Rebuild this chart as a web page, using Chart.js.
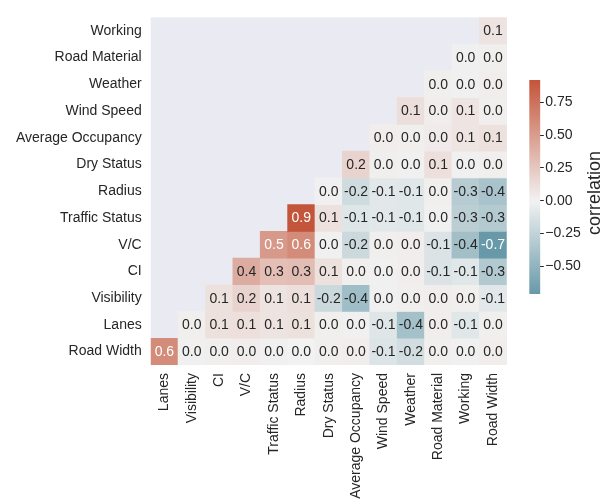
<!DOCTYPE html>
<html>
<head>
<meta charset="utf-8">
<title>Correlation heatmap</title>
<script src="https://cdn.jsdelivr.net/npm/chart.js@4.4.1/dist/chart.umd.min.js"></script>
<style>
  html, body { margin: 0; padding: 0; background: #ffffff; }
  #wrap { position: relative; width: 601px; height: 504px; }
  #wrap canvas { position: absolute; left: 0; top: 0; }
</style>
</head>
<body>
<div id="wrap">
  <canvas id="heat" width="601" height="504"></canvas>
  <canvas id="cbar" width="601" height="504"></canvas>
</div>
<script>
// Row order, top to bottom
const rowLabels = ['Working', 'Road Material', 'Weather', 'Wind Speed', 'Average Occupancy',
  'Dry Status', 'Radius', 'Traffic Status', 'V/C', 'CI', 'Visibility', 'Lanes', 'Road Width'];
// Column order, left to right
const colLabels = ['Lanes', 'Visibility', 'CI', 'V/C', 'Traffic Status', 'Radius', 'Dry Status',
  'Average Occupancy', 'Wind Speed', 'Weather', 'Road Material', 'Working', 'Road Width'];

// Lower-triangle correlations of each row; each row ends at the last column
const corrWorking          = [0.09];
const corrRoadMaterial     = [0.01, 0.02];
const corrWeather          = [0.02, 0.01, 0.03];
const corrWindSpeed        = [0.12, 0.03, 0.08, 0.02];
const corrAverageOccupancy = [0.03, 0.02, 0.04, 0.08, 0.10];
const corrDryStatus        = [0.18, 0.02, 0.01, 0.11, 0.01, 0.02];
const corrRadius           = [0.01, -0.18, -0.08, -0.09, 0.02, -0.31, -0.38];
const corrTrafficStatus    = [0.92, 0.10, -0.10, -0.08, -0.09, 0.01, -0.29, -0.32];
const corrVC               = [0.52, 0.60, 0.01, -0.20, 0.02, 0.03, -0.12, -0.41, -0.71];
const corrCI               = [0.41, 0.30, 0.31, 0.10, 0.02, 0.01, 0.03, -0.12, -0.09, -0.33];
const corrVisibility       = [0.10, 0.18, 0.09, 0.11, -0.20, -0.42, 0.01, 0.02, 0.03, 0.02, -0.08];
const corrLanes            = [0.02, 0.10, 0.11, 0.09, 0.10, 0.02, 0.01, -0.10, -0.40, 0.03, -0.09, 0.02];
const corrRoadWidth        = [0.60, 0.01, 0.02, 0.03, 0.01, 0.00, 0.02, 0.03, -0.11, -0.17, 0.02, 0.01, 0.03];

const colorbarTicks = [-0.5, -0.25, 0, 0.25, 0.5, 0.75];

const rowValues = [corrWorking, corrRoadMaterial, corrWeather, corrWindSpeed, corrAverageOccupancy,
  corrDryStatus, corrRadius, corrTrafficStatus, corrVC, corrCI, corrVisibility, corrLanes, corrRoadWidth];

// ---- colour map: diverging blue -> light grey -> red, centred on 0 ----
const allValues = rowValues.flat();
const vMin = Math.min(...allValues);
const vMax = Math.max(...allValues);
const vRange = Math.max(Math.abs(vMin), Math.abs(vMax));
const NEG = [63, 127, 147];
const MID = [242, 242, 242];
const POS = [195, 85, 58];

function corrRGB(v) {
  const t = Math.max(-1, Math.min(1, v / vRange));
  const end = t < 0 ? NEG : POS;
  const a = Math.abs(t);
  return MID.map((m, k) => Math.round(m + (end[k] - m) * a));
}
function corrColor(v) {
  const c = corrRGB(v);
  return `rgb(${c[0]},${c[1]},${c[2]})`;
}
function textColorFor(v) {
  const lin = corrRGB(v).map(c => {
    c /= 255;
    return c <= 0.03928 ? c / 12.92 : Math.pow((c + 0.055) / 1.055, 2.4);
  });
  const lum = 0.2126 * lin[0] + 0.7152 * lin[1] + 0.0722 * lin[2];
  return lum > 0.408 ? '#262626' : '#ffffff';
}

const FONT = "'Liberation Sans', Arial, Helvetica, sans-serif";
Chart.defaults.font.family = FONT;
Chart.defaults.font.size = 14;
Chart.defaults.color = '#262626';

// ---- one floating-bar dataset per row: each cell spans [row-0.5, row+0.5] ----
const nCols = colLabels.length;
const datasets = rowValues.map((vals, r) => {
  const start = nCols - vals.length;
  const cells = [];
  const cellValues = [];
  for (let c = 0; c < nCols; c++) {
    if (c >= start) {
      cells.push([r - 0.5, r + 0.5]);
      cellValues.push(vals[c - start]);
    } else {
      cells.push(null);
      cellValues.push(null);
    }
  }
  return {
    label: rowLabels[r],
    data: cells,
    cellValues,
    backgroundColor: ctx => {
      const v = ctx.dataset.cellValues[ctx.dataIndex];
      return v === null || v === undefined ? 'rgba(0,0,0,0)' : corrColor(v);
    },
    borderWidth: 0,
    barPercentage: 1,
    categoryPercentage: 1,
    grouped: false
  };
});

// lavender face behind the masked upper triangle
const axesFace = {
  id: 'axesFace',
  beforeDatasetsDraw(chart) {
    const { ctx, chartArea: a } = chart;
    ctx.save();
    ctx.fillStyle = '#eaeaf2';
    ctx.fillRect(a.left, a.top, a.right - a.left, a.bottom - a.top);
    ctx.restore();
  }
};

// value annotations centred in each cell
const cellText = {
  id: 'cellText',
  afterDatasetsDraw(chart) {
    const ctx = chart.ctx;
    ctx.save();
    ctx.font = `14px ${FONT}`;
    ctx.textAlign = 'center';
    ctx.textBaseline = 'middle';
    chart.data.datasets.forEach((ds, di) => {
      const meta = chart.getDatasetMeta(di);
      meta.data.forEach((el, i) => {
        const v = ds.cellValues[i];
        if (v === null || v === undefined) return;
        const p = el.getCenterPoint();
        ctx.fillStyle = textColorFor(v);
        ctx.fillText(v.toFixed(1), p.x, p.y + 0.5);
      });
    });
    ctx.restore();
  }
};

new Chart(document.getElementById('heat'), {
  type: 'bar',
  data: { labels: colLabels, datasets },
  options: {
    responsive: false,
    animation: false,
    devicePixelRatio: 1,
    layout: { padding: { left: 0, top: 8.3, right: 94.3, bottom: 0 } },
    plugins: { legend: { display: false }, tooltip: { enabled: false } },
    scales: {
      x: {
        type: 'category',
        grid: { display: false, drawTicks: false },
        border: { display: false },
        ticks: { autoSkip: false, minRotation: 90, maxRotation: 90, padding: 8, color: '#262626', font: { size: 14 } },
        afterFit: s => { s.height = 139; }
      },
      y: {
        type: 'linear',
        min: -0.5,
        max: rowLabels.length - 0.5,
        reverse: true,
        grid: { display: false, drawTicks: false },
        border: { display: false },
        afterBuildTicks: s => { s.ticks = rowLabels.map((_, i) => ({ value: i })); },
        ticks: { callback: v => rowLabels[v], padding: 9, color: '#262626', font: { size: 14 } },
        afterFit: s => { s.width = 150.7; }
      }
    }
  },
  plugins: [axesFace, cellText]
});

// ---- colour bar ----
function barGradient(chart) {
  const a = chart.chartArea;
  if (!a) return corrColor(0);
  const g = chart.ctx.createLinearGradient(0, a.bottom, 0, a.top);
  const steps = 64;
  for (let i = 0; i <= steps; i++) {
    const t = i / steps;
    g.addColorStop(t, corrColor(vMin + (vMax - vMin) * t));
  }
  return g;
}

const cbarTitle = {
  id: 'cbarTitle',
  afterDraw(chart) {
    const { ctx, chartArea: a } = chart;
    ctx.save();
    ctx.translate(600, (a.top + a.bottom) / 2 + 6);
    ctx.rotate(-Math.PI / 2);
    ctx.font = `18px ${FONT}`;
    ctx.fillStyle = '#262626';
    ctx.textAlign = 'center';
    ctx.textBaseline = 'alphabetic';
    ctx.fillText('correlation', 0, 0);
    ctx.restore();
  }
};

new Chart(document.getElementById('cbar'), {
  type: 'bar',
  data: {
    labels: [''],
    datasets: [{
      data: [[vMin, vMax]],
      backgroundColor: ctx => barGradient(ctx.chart),
      borderWidth: 0,
      barPercentage: 1,
      categoryPercentage: 1
    }]
  },
  options: {
    responsive: false,
    animation: false,
    devicePixelRatio: 1,
    layout: { padding: { left: 529.3, top: 80, right: 0, bottom: 210 } },
    plugins: { legend: { display: false }, tooltip: { enabled: false } },
    scales: {
      x: { display: false },
      y: {
        position: 'right',
        min: vMin,
        max: vMax,
        grid: { drawOnChartArea: false, drawTicks: true, tickLength: 3.5, tickColor: '#262626', tickWidth: 1 },
        border: { display: false },
        afterBuildTicks: s => { s.ticks = colorbarTicks.map(v => ({ value: v })); },
        ticks: {
          padding: 1.5,
          color: '#262626',
          font: { size: 14 },
          callback: v => (v < 0 ? '\u2212' : '') + Math.abs(v).toFixed(2)
        },
        afterFit: s => { s.width = 601 - 540.3; }
      }
    }
  },
  plugins: [cbarTitle]
});
</script>
</body>
</html>
